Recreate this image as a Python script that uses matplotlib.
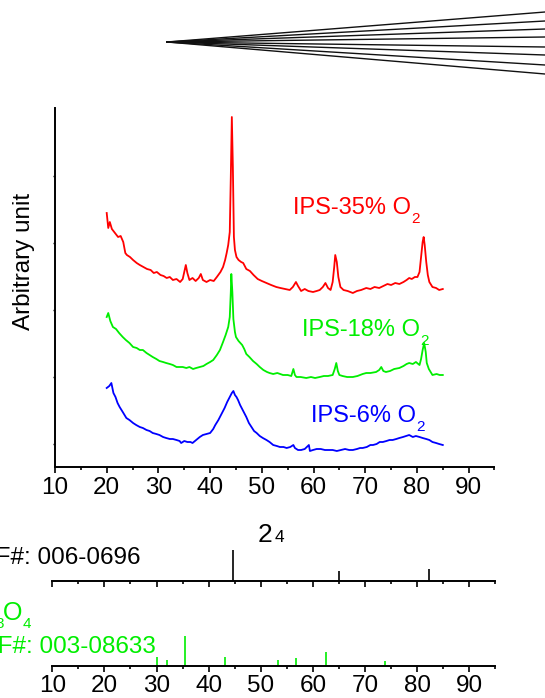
import matplotlib
matplotlib.use("Agg")
import matplotlib.pyplot as plt
import numpy as np

plt.rcParams['font.family'] = ['Liberation Sans', 'DejaVu Sans']

# XRD scans (2theta in degrees, intensity in arbitrary units, already offset)
tt_35 = [20.0, 20.3, 20.6, 21.0, 21.6, 22.2, 22.7, 23.2, 23.6, 23.9, 24.5, 25.1, 25.8, 26.4, 27.1, 27.8,
         28.5, 29.1, 29.7, 30.4, 31.0, 31.6, 32.2, 32.8, 33.5, 34.2, 34.7, 35.0, 35.3, 35.6, 36.0, 36.6,
         37.2, 37.8, 38.2, 38.6, 39.3, 40.0, 40.7, 41.3, 42.0, 42.5, 42.9, 43.2, 43.5, 43.8, 44.0, 44.2,
         44.4, 44.6, 44.8, 45.1, 45.5, 46.0, 46.4, 47.0, 47.7, 48.4, 49.2, 50.0, 50.9, 51.8, 52.8, 53.6,
         54.5, 55.4, 56.0, 56.6, 57.0, 57.6, 58.3, 59.0, 59.9, 60.6, 61.2, 61.8, 62.3, 62.8, 63.3, 63.7,
         64.0, 64.2, 64.5, 64.8, 65.2, 65.8, 66.6, 67.6, 68.4, 69.2, 70.2, 71.0, 71.8, 72.7, 73.5, 74.3,
         75.0, 75.8, 76.6, 77.4, 78.0, 78.5, 79.0, 79.6, 80.1, 80.5, 80.8, 81.1, 81.3, 81.5, 81.8, 82.1,
         82.4, 83.0, 83.7, 84.3, 85.0]
int_35 = [254, 239, 245, 238, 234, 230, 231, 225, 214, 212, 210, 207, 204, 202, 200, 198,
          197, 194, 195, 192, 191, 189, 190, 187, 188, 185, 188, 195, 202, 194, 187, 189,
          186, 189, 193, 187, 185, 187, 186, 190, 195, 200, 207, 214, 222, 235, 290, 350,
          300, 230, 217, 210, 207, 205, 204, 198, 196, 192, 188, 186, 184, 182, 180, 179,
          178, 177, 180, 185, 181, 176, 178, 176, 175, 176, 177, 180, 184, 179, 177, 185,
          200, 212, 205, 190, 180, 177, 176, 174, 176, 177, 179, 178, 180, 179, 181, 183,
          182, 184, 183, 185, 187, 189, 188, 190, 190, 195, 210, 225, 230, 222, 205, 192,
          185, 180, 179, 177, 178]

tt_18 = [20.0, 20.3, 20.7, 21.2, 21.8, 22.4, 23.1, 23.7, 24.4, 25.1, 25.8, 26.4, 27.0, 27.7, 28.3, 28.9,
         29.6, 30.2, 30.9, 31.5, 32.2, 32.8, 33.5, 34.1, 34.7, 35.4, 36.0, 36.7, 37.3, 38.0, 38.7, 39.3,
         40.0, 40.6, 41.3, 41.9, 42.5, 43.0, 43.5, 43.8, 44.0, 44.1, 44.3, 44.5, 44.8, 45.0, 45.5, 46.2,
         46.6, 47.0, 47.6, 48.3, 49.0, 49.6, 50.3, 51.0, 51.5, 52.2, 53.0, 54.1, 55.0, 55.7, 56.1, 56.4,
         56.7, 57.5, 58.6, 59.5, 60.3, 61.2, 62.0, 62.8, 63.7, 64.1, 64.4, 64.7, 65.0, 65.6, 66.5, 67.6,
         68.5, 69.5, 70.2, 71.0, 72.1, 72.7, 73.1, 73.5, 74.0, 74.8, 75.6, 76.6, 77.4, 78.0, 78.5, 79.2,
         79.8, 80.5, 80.8, 81.1, 81.4, 81.7, 81.9, 82.3, 83.0, 83.8, 84.4, 85.0]
int_18 = [150, 154, 146, 140, 138, 134, 130, 127, 124, 120, 119, 117, 117, 114, 112, 110,
          108, 106, 105, 104, 103, 102, 100, 100, 100, 99, 100, 98, 99, 100, 101, 103,
          105, 107, 112, 117, 125, 132, 140, 150, 175, 193, 175, 148, 135, 130, 126, 122,
          118, 113, 110, 106, 103, 100, 97, 95, 94, 93, 94, 92, 92, 91, 98, 92,
          90, 90, 89, 90, 89, 90, 91, 91, 92, 98, 104, 96, 92, 91, 90, 90,
          91, 93, 94, 94, 95, 97, 100, 96, 95, 96, 98, 99, 101, 103, 104, 103,
          105, 102, 108, 117, 124, 115, 104, 98, 92, 93, 92, 92]

tt_6 = [20.0, 20.5, 20.9, 21.3, 21.7, 22.1, 22.5, 23.1, 23.8, 24.4, 25.1, 25.7, 26.4, 27.0, 27.7, 28.3,
        28.9, 29.6, 30.2, 30.9, 31.5, 32.2, 32.8, 33.5, 34.1, 34.4, 35.0, 35.6, 36.2, 36.6, 37.3, 38.0,
        38.6, 39.3, 40.0, 40.6, 41.0, 41.6, 42.2, 42.8, 43.3, 43.8, 44.2, 44.5, 44.8, 45.1, 45.4, 45.8,
        46.2, 46.6, 47.0, 47.5, 48.0, 48.5, 49.0, 49.6, 50.2, 50.9, 51.5, 52.2, 52.9, 53.5, 54.2, 54.8,
        55.5, 56.1, 56.4, 57.0, 57.6, 58.3, 59.1, 59.3, 59.9, 60.6, 61.4, 62.2, 63.0, 63.7, 64.5, 65.3,
        66.1, 66.9, 67.6, 68.4, 69.0, 69.5, 70.3, 71.0, 71.5, 72.2, 72.8, 73.4, 74.1, 74.7, 75.3, 76.0,
        76.6, 77.3, 77.9, 78.5, 79.2, 79.8, 80.5, 81.1, 81.8, 82.4, 83.0, 83.7, 84.3, 85.0]
int_6 = [79, 81, 84, 74, 70, 64, 60, 55, 49, 47, 44, 42, 40, 39, 37, 36,
         34, 33, 32, 30, 29, 28, 28, 27, 26, 24, 26, 25, 25, 24, 27, 30,
         32, 33, 34, 38, 42, 47, 53, 59, 65, 70, 74, 76, 72, 70, 67, 62,
         58, 54, 50, 44, 40, 36, 34, 31, 29, 27, 25, 22, 21, 20, 20, 19,
         20, 22, 19, 17, 17, 18, 22, 16, 17, 18, 18, 17, 17, 17, 16, 17,
         18, 17, 17, 18, 19, 19, 20, 22, 22, 23, 25, 25, 26, 27, 27, 28,
         29, 30, 31, 32, 30, 31, 30, 29, 28, 27, 25, 24, 23, 22]

RED, GREEN, BLUE = '#ff0000', '#00ee00', '#0000ff'
scans = [(tt_35, int_35, RED), (tt_18, int_18, GREEN), (tt_6, int_6, BLUE)]
scan_labels = ['IPS-35% O', 'IPS-18% O', 'IPS-6% O']
label_pos = [(56.0, 253), (57.7, 131), (59.5, 45)]

# Reference patterns (relative intensities)
fe_pos = [44.7, 65.0, 82.3]
fe_int = [100, 30, 38]
fe3o4_pos = [30.1, 32.0, 35.4, 43.1, 53.4, 56.8, 62.5, 73.9]
fe3o4_int = [30, 20, 100, 30, 19, 28, 46, 16]

# Guide lines at the top (figure pixels)
fan_apex = (167, 42)
fan_ends = [12, 21, 29, 37, 47, 55, 65, 74]

W, H = 545, 698
fig = plt.figure(figsize=(W / 100, H / 100), dpi=100)


def box(left, right, bottom, top):
    return [left / W, 1 - bottom / H, (right - left) / W, (bottom - top) / H]


def style_x(a, pad):
    a.set_xlim(10, 95)
    a.set_xticks(np.arange(10, 91, 10))
    a.set_xticks(np.arange(15, 96, 10), minor=True)
    a.tick_params(axis='x', which='major', direction='out', length=4, width=1.2,
                  labelsize=17.5, pad=pad)
    a.tick_params(axis='x', which='minor', direction='out', length=2, width=1.2)
    a.spines['bottom'].set_linewidth(1.4)
    for s in ['top', 'right']:
        a.spines[s].set_visible(False)


# main XRD panel
ax = fig.add_axes(box(55, 494.5, 467, 108))
for (tt, inten, c), lab, (lx, ly) in zip(scans, scan_labels, label_pos):
    ax.plot(tt, inten, color=c, lw=1.3)
    t = ax.text(lx, ly, lab, color=c, fontsize=17, ha='left', va='baseline')
    # lowered subscript "2"
    ax.annotate('2', xy=(1, 0), xycoords=t, xytext=(0.5, -5), textcoords='offset points',
                color=c, fontsize=11, ha='left', va='bottom')
ax.set_ylim(0, 359)
ax.set_yticks(np.arange(23, 300, 67))
ax.set_yticklabels([])
style_x(ax, 3.5)
ax.spines['left'].set_linewidth(1.4)
ax.tick_params(axis='y', direction='out', length=1.5, width=1.0)

# stick patterns
ax_fe = fig.add_axes(box(52.3, 495.3, 580.5, 540.5))
ax_fo = fig.add_axes(box(52.3, 495.3, 666, 626))
for a, pos, inten, c in [(ax_fe, fe_pos, fe_int, 'black'), (ax_fo, fe3o4_pos, fe3o4_int, GREEN)]:
    a.vlines(pos, 0, inten, color=c, lw=1.2)
    a.set_ylim(0, 133)
    a.set_yticks([])
    a.spines['left'].set_visible(False)
    style_x(a, 2.5)
    a.patch.set_alpha(0)
ax_fe.set_xticklabels([])

# overlay in pixel coordinates for free text and guide lines
ov = fig.add_axes([0, 0, 1, 1])
ov.set_xlim(0, W)
ov.set_ylim(H, 0)
ov.axis('off')
ov.patch.set_alpha(0)
for ye in fan_ends:
    ov.plot([fan_apex[0], W + 5], [fan_apex[1], ye + (ye - fan_apex[1]) * 5 / (W - fan_apex[0])],
            color='#111111', lw=1.0)

ov.text(24, 261.5, 'Arbitrary unit', rotation=90, fontsize=17.5, ha='center', va='center')
ov.text(258, 542, '2', fontsize=19, ha='left', va='baseline')
ov.text(275, 542, '4', fontsize=12.5, ha='left', va='baseline')
ov.text(140.5, 564, 'PDF#: 006-0696', fontsize=17.5, ha='right', va='baseline')
# Fe3O4 with lowered subscripts
ov.text(22.5, 620, 'O', fontsize=18, color=GREEN, ha='right', va='baseline')
ov.text(23, 628, '4', fontsize=11, color=GREEN, ha='left', va='baseline')
ov.text(4, 628, '3', fontsize=11, color=GREEN, ha='right', va='baseline')
ov.text(-3, 620, 'Fe', fontsize=18, color=GREEN, ha='right', va='baseline')
ov.text(155.5, 653, 'PDF#: 003-08633', fontsize=17.5, color=GREEN, ha='right', va='baseline')

fig.savefig('out.png', dpi=100)
